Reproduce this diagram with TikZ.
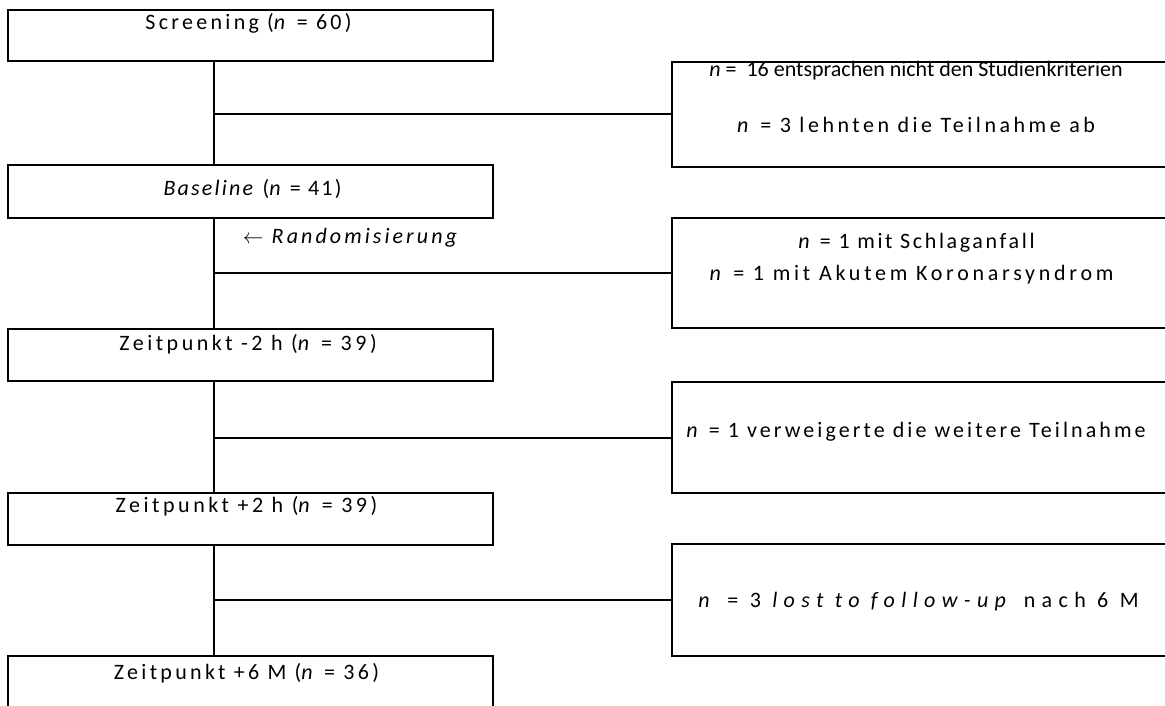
\documentclass[tikz,border=0pt]{standalone}
\usepackage{fontspec}
\setmainfont{Carlito}
\newcommand{\LS}[2]{{\fontspec{Carlito}[LetterSpace=#1]#2}}
\begin{document}
\begin{tikzpicture}[x=1pt,y=-1pt,
  box/.style={draw, line width=2pt, inner sep=0pt, rectangle},
  lbox/.style={box, minimum width=485pt},
  rbox/.style={box, minimum width=508pt},
  lbl/.style={anchor=base, inner sep=0pt, font=\fontsize{22}{26}\selectfont},
  conn/.style={line width=2pt}]
\useasboundingbox (0,0) rectangle (1165,706);
\clip (0,0) rectangle (1165,706);
% left boxes
\node[lbox, minimum height=51pt] (scr) at (250.5,35.5) {};
\node[lbox, minimum height=53pt] (base) at (250.5,191.5) {};
\node[lbox, minimum height=52pt] (tm2) at (250.5,355) {};
\node[lbox, minimum height=52pt] (tp2) at (250.5,519) {};
\node[lbox, minimum height=54pt] (tp6) at (250.5,683) {};
% right boxes
\node[rbox, minimum height=105pt] (r1) at (926,114.5) {};
\node[rbox, minimum height=110pt] (r2) at (926,273) {};
\node[rbox, minimum height=111pt] (r3) at (926,437.5) {};
\node[rbox, minimum height=112pt] (r4) at (926,600) {};
\coordinate (spine) at (214,0);
% connectors
\draw[conn] (scr.south -| spine) -- (base.north -| spine);
\draw[conn] (base.south -| spine) -- (tm2.north -| spine);
\draw[conn] (tm2.south -| spine) -- (tp2.north -| spine);
\draw[conn] (tp2.south -| spine) -- (tp6.north -| spine);
\draw[conn] (r1.west -| spine) -- (r1.west);
\draw[conn] (r2.west -| spine) -- (r2.west);
\draw[conn] (r3.west -| spine) -- (r3.west);
\draw[conn] (r4.west -| spine) -- (r4.west);
% texts
\node[lbl] (tscr) at (248.5,30) {\LS{15}{Screening (\textit{n} = 60)}};
\node[lbl] (tbase) at (252.5,196) {\LS{10}{\textit{Baseline} (\textit{n} = 41)}};
\node[lbl] (trand) at (351.5,243) {\LS{14}{$\leftarrow$ \textit{Randomisierung}}};
\node[lbl] (ttm2) at (248,350) {\LS{16}{Zeitpunkt -2 h (\textit{n} = 39)}};
\node[lbl] (ttp2) at (246.5,512) {\LS{16}{Zeitpunkt +2 h (\textit{n} = 39)}};
\node[lbl] (ttp6) at (246.5,679) {\LS{15}{Zeitpunkt +6 M (\textit{n} = 36)}};
\node[lbl] (tr1a) at (916,77) {\textit{n} =~ 16 entsprachen nicht den Studienkriterien};
\node[lbl] (tr1b) at (916,133) {\LS{16}{\textit{n} = 3 lehnten die Teilnahme ab}};
\node[lbl] (tr2a) at (916.5,248) {\LS{12}{\textit{n} = 1 mit Schlaganfall}};
\node[lbl] (tr2b) at (911.5,280) {\LS{17}{\textit{n} = 1 mit Akutem Koronarsyndrom}};
\node[lbl] (tr3) at (916,437) {\LS{14}{\textit{n} = 1 verweigerte die weitere Teilnahme}};
\node[lbl] (tr4) at (918.5,607) {\LS{29}{\textit{n} = 3 \textit{lost to follow-up} nach 6 M}};
\end{tikzpicture}
\end{document}
